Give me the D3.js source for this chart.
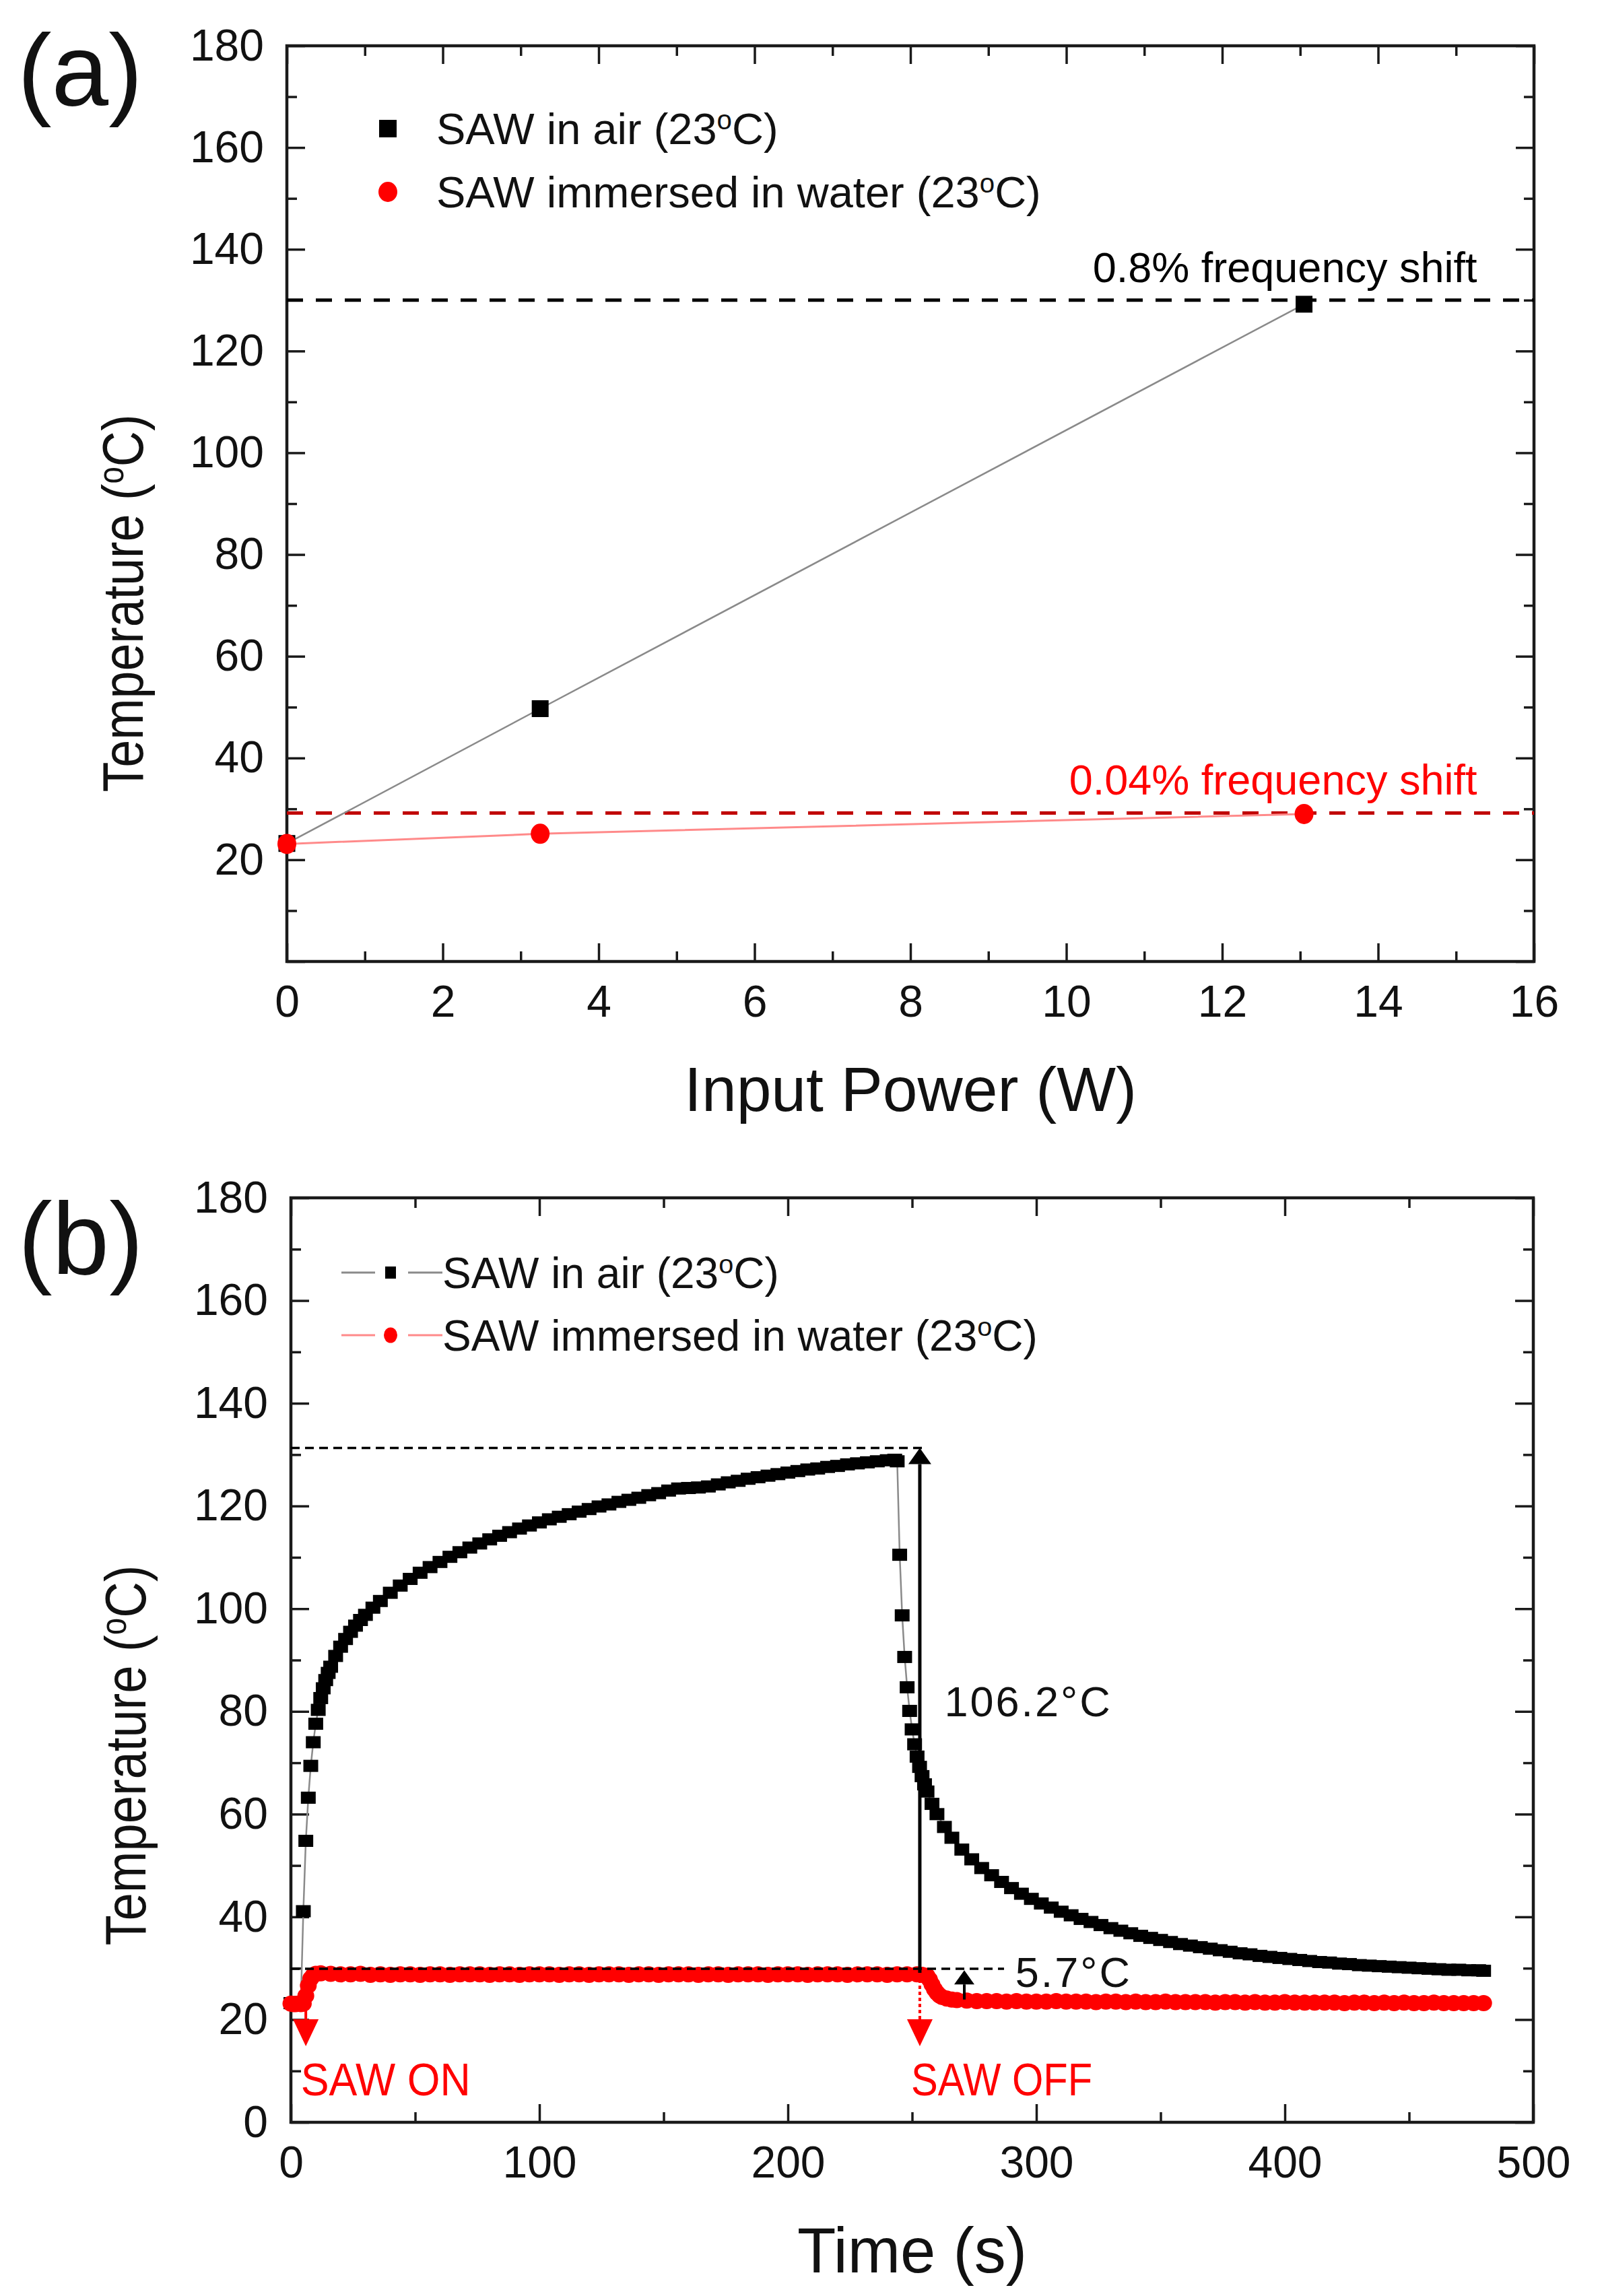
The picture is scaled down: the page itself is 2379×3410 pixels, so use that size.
<!DOCTYPE html>
<html>
<head>
<meta charset="utf-8">
<script src="https://cdn.jsdelivr.net/npm/d3@7"></script>
<style>
  body { margin: 0; background: #fff; }
  text { font-family: "Liberation Sans", Arial, sans-serif; }
</style>
</head>
<body>
<div id="chart"></div>
<script>
// ---- panel (a): temperature vs input power ----
const powerTicks = [0, 2, 4, 6, 8, 10, 12, 14, 16];
const powerMinor = [1, 3, 5, 7, 9, 11, 13, 15];
const powerW = [0, 3.25, 13.05];
const airTempA = [23.2, 49.7, 129.2];
const waterTempA = [23.1, 25.1, 29.0];
const shiftLevels = [130.0, 29.2];
const shiftLabels = ["0.8% frequency shift", "0.04% frequency shift"];

// ---- panel (b): temperature vs time ----
const timeTicks = [0, 100, 200, 300, 400, 500];
const timeMinor = [50, 150, 250, 350, 450];
const tempTicks = [0, 20, 40, 60, 80, 100, 120, 140, 160, 180];
const tempMinor = [10, 30, 50, 70, 90, 110, 130, 150, 170];

const airRun = [
  [0,23.2],[1,23.2],[2,23.3],[3,23.3],[4,23.4],[5,41.1],[6,54.8],[7,63.2],[8,69.4],[9,74.0],
  [10,77.6],[11,80.3],[12,82.6],[13,84.5],[14,86.1],[15,87.5],[16,88.7],[18,90.8],[20,92.6],
  [22,94.1],[24,95.5],[26,96.7],[28,97.8],[30,98.8],[33,100.2],[36,101.5],[40,103.1],[44,104.5],
  [48,105.8],[52,107.0],[56,108.1],[60,109.1],[64,110.1],[68,111.0],[72,111.9],[76,112.7],
  [80,113.5],[84,114.2],[88,114.9],[92,115.6],[96,116.2],[100,116.8],[104,117.4],[108,117.9],
  [112,118.4],[116,118.9],[120,119.4],[124,119.9],[128,120.3],[132,120.8],[136,121.2],[140,121.6],
  [144,122.1],[148,122.5],[152,123.0],[156,123.4],[160,123.5],[164,123.6],[168,123.8],[172,124.2],
  [176,124.6],[180,124.9],[184,125.3],[188,125.6],[192,125.9],[196,126.2],[200,126.5],[204,126.8],
  [208,127.1],[212,127.3],[216,127.6],[220,127.8],[224,128.1],[228,128.3],[232,128.5],[236,128.7],
  [240,128.9],[243,129.0],[244,128.7],[245,110.5],[246,98.7],[247,90.6],[248,84.7],[249,80.1],
  [250,76.5],[251,73.6],[252,71.2],[253,69.2],[254,67.4],[255,65.8],[256,64.4],[258,62.0],
  [260,60.0],[263,57.5],[266,55.4],[270,53.1],[274,51.2],[278,49.5],[282,48.1],[286,46.8],
  [290,45.6],[294,44.5],[298,43.5],[302,42.6],[306,41.8],[310,41.0],[314,40.3],[318,39.6],
  [322,39.0],[326,38.4],[330,37.8],[334,37.3],[338,36.8],[342,36.3],[346,35.9],[350,35.5],
  [354,35.1],[358,34.7],[362,34.4],[366,34.1],[370,33.8],[374,33.5],[378,33.2],[382,32.9],
  [386,32.7],[390,32.4],[394,32.2],[398,32.0],[402,31.8],[406,31.6],[410,31.4],[414,31.2],
  [418,31.1],[422,30.9],[426,30.8],[430,30.6],[434,30.5],[438,30.4],[442,30.3],[446,30.2],
  [450,30.1],[454,30.0],[458,29.9],[462,29.8],[466,29.7],[470,29.7],[474,29.6],[478,29.6],[480,29.5]
];

const waterRun = [
  [0,23.1],[1,23.0],[2,23.0],[3,23.1],[4,23.0],[5,23.1],[6,24.6],[7,26.6],[8,28.0],[9,28.6],
  [10,28.9],[12,29.0],[16,28.9],[20,28.8],[24,28.8],[28,28.9],[32,28.7],[36,28.8],[40,28.7],
  [44,28.8],[48,28.8],[52,28.7],[56,28.8],[60,28.8],[64,28.7],[68,28.8],[72,28.8],[76,28.8],
  [80,28.7],[84,28.8],[88,28.8],[92,28.7],[96,28.8],[100,28.8],[104,28.8],[108,28.7],[112,28.8],
  [116,28.8],[120,28.7],[124,28.8],[128,28.8],[132,28.8],[136,28.7],[140,28.8],[144,28.8],
  [148,28.7],[152,28.8],[156,28.8],[160,28.8],[164,28.7],[168,28.8],[172,28.8],[176,28.7],
  [180,28.8],[184,28.8],[188,28.8],[192,28.7],[196,28.8],[200,28.8],[204,28.8],[208,28.7],
  [212,28.8],[216,28.8],[220,28.8],[224,28.7],[228,28.8],[232,28.8],[236,28.8],[240,28.7],
  [244,28.8],[248,28.8],[252,28.8],[254,28.7],[256,28.5],[257,27.8],[258,26.8],[259,25.9],
  [260,25.2],[261,24.7],[262,24.4],[264,24.1],[266,23.9],[268,23.8],[272,23.7],[276,23.6],
  [280,23.6],[284,23.6],[288,23.5],[292,23.6],[296,23.5],[300,23.5],[304,23.5],[308,23.6],
  [312,23.5],[316,23.5],[320,23.5],[324,23.4],[328,23.5],[332,23.5],[336,23.4],[340,23.5],
  [344,23.4],[348,23.4],[352,23.5],[356,23.4],[360,23.4],[364,23.4],[368,23.4],[372,23.3],
  [376,23.4],[380,23.4],[384,23.3],[388,23.4],[392,23.3],[396,23.3],[400,23.4],[404,23.3],
  [408,23.3],[412,23.3],[416,23.3],[420,23.3],[424,23.2],[428,23.3],[432,23.3],[436,23.2],
  [440,23.3],[444,23.2],[448,23.3],[452,23.2],[456,23.2],[460,23.3],[464,23.2],[468,23.2],
  [472,23.2],[476,23.2],[480,23.2]
];

// annotation values (temperature levels in degC, times in s)
const holdLevels = [131.3, 29.9];
const holdEnds = [256, 287];
const offTime = 253.1;
const onTime = 6;
const dropLabels = ["106.2°C", "5.7°C"];

const svg = d3.select("#chart").append("svg")
  .attr("width", 2379)
  .attr("height", 3410)
  .style("background", "#fff");

const ink = "#1a1a1a";

function drawAxes(g, x, y, xMajor, xMinor, yMajor, yMinor, showYZero) {
  const [xl, xr] = x.range();
  const [yb, yt] = y.range();
  const big = 27, small = 15;

  const fmtY = d => (d === 0 && !showYZero) ? "" : d;
  const add = (axis, tx, ty) => g.append("g")
    .attr("class", "axis")
    .attr("transform", `translate(${tx},${ty})`)
    .call(axis.tickSizeOuter(0));

  add(d3.axisBottom(x).tickValues(xMajor).tickSize(-big).tickPadding(35), 0, yb);
  add(d3.axisBottom(x).tickValues(xMinor).tickSize(-small).tickFormat(""), 0, yb);
  add(d3.axisTop(x).tickValues(xMajor).tickSize(-big).tickFormat(""), 0, yt);
  add(d3.axisTop(x).tickValues(xMinor).tickSize(-small).tickFormat(""), 0, yt);
  add(d3.axisLeft(y).tickValues(yMajor).tickSize(-big).tickPadding(34).tickFormat(fmtY), xl, 0);
  add(d3.axisLeft(y).tickValues(yMinor).tickSize(-small).tickFormat(""), xl, 0);
  add(d3.axisRight(y).tickValues(yMajor).tickSize(-big).tickFormat(""), xr, 0);
  add(d3.axisRight(y).tickValues(yMinor).tickSize(-small).tickFormat(""), xr, 0);

  g.selectAll(".axis .domain").remove();
  g.selectAll(".axis line").attr("stroke", ink).attr("stroke-width", 3.5);
  g.selectAll(".axis text")
    .attr("font-family", "'Liberation Sans', Arial, sans-serif")
    .attr("font-size", 66)
    .attr("fill", "#111");

  g.append("rect")
    .attr("x", xl).attr("y", yt)
    .attr("width", xr - xl).attr("height", yb - yt)
    .attr("fill", "none")
    .attr("stroke", ink)
    .attr("stroke-width", 4.5);
}

// text with a raised small "o" used as degree sign
function degText(sel, before, after) {
  sel.append("tspan").text(before);
  sel.append("tspan").attr("font-size", "0.62em").attr("dy", "-0.55em").text("o");
  sel.append("tspan").attr("dy", "0.34em").text(after);
}

function yTitle(g, cx, cy, len) {
  const t = g.append("text")
    .attr("transform", `translate(${cx},${cy}) rotate(-90)`)
    .attr("text-anchor", "middle")
    .attr("font-size", 86)
    .attr("fill", "#111")
    .attr("textLength", len)
    .attr("lengthAdjust", "spacingAndGlyphs");
  degText(t, "Temperature (", "C)");
}

function arrow(g, px, p0, p1, color, headW, headH, width, dash) {
  const dir = p1 < p0 ? 1 : -1;
  g.append("line")
    .attr("x1", px).attr("x2", px)
    .attr("y1", p0).attr("y2", p1 + dir * headH)
    .attr("stroke", color)
    .attr("stroke-width", width)
    .attr("stroke-dasharray", dash || null);
  g.append("path")
    .attr("d", `M${px},${p1}L${px - headW / 2},${p1 + dir * headH}L${px + headW / 2},${p1 + dir * headH}Z`)
    .attr("fill", color);
}

// ================= panel (a) =================
const ga = svg.append("g");
const xa = d3.scaleLinear().domain([0, 16]).range([426, 2278]);
const ya = d3.scaleLinear().domain([0, 180]).range([1428, 68]);

drawAxes(ga, xa, ya, powerTicks, powerMinor, tempTicks, tempMinor, false);

// frequency shift reference lines
ga.selectAll(".shift")
  .data(shiftLevels)
  .join("line")
  .attr("x1", xa(0)).attr("x2", xa(16))
  .attr("y1", d => ya(d)).attr("y2", d => ya(d))
  .attr("stroke", (d, i) => i === 0 ? "#000" : "#c00000")
  .attr("stroke-width", 5)
  .attr("stroke-dasharray", "24,19");

ga.selectAll(".shiftLabel")
  .data(shiftLabels)
  .join("text")
  .attr("x", xa(15.27))
  .attr("y", (d, i) => ya(shiftLevels[i]) - 27)
  .attr("text-anchor", "end")
  .attr("font-size", 63)
  .attr("fill", (d, i) => i === 0 ? "#000" : "#ff0000")
  .text(d => d);

const lineA = d3.line().x(d => xa(d[0])).y(d => ya(d[1]));
const airA = powerW.map((p, i) => [p, airTempA[i]]);
const waterA = powerW.map((p, i) => [p, waterTempA[i]]);

ga.append("path").attr("d", lineA(airA))
  .attr("fill", "none").attr("stroke", "#8a8a8a").attr("stroke-width", 2.5);
ga.append("path").attr("d", lineA(waterA))
  .attr("fill", "none").attr("stroke", "#ff8a8a").attr("stroke-width", 3);

ga.selectAll(".sqA")
  .data(airA)
  .join("rect")
  .attr("x", d => xa(d[0]) - 12.5).attr("y", d => ya(d[1]) - 12.5)
  .attr("width", 25).attr("height", 25)
  .attr("fill", "#000");

ga.selectAll(".ciA")
  .data(waterA)
  .join("ellipse")
  .attr("cx", d => xa(d[0])).attr("cy", d => ya(d[1]))
  .attr("rx", 14).attr("ry", 15)
  .attr("fill", "#ff0000");

// legend (a)
ga.append("rect").attr("x", 563).attr("y", 178).attr("width", 26).attr("height", 26).attr("fill", "#000");
ga.append("ellipse").attr("cx", 576).attr("cy", 285).attr("rx", 14).attr("ry", 15).attr("fill", "#ff0000");
degText(ga.append("text").attr("x", 648).attr("y", 214).attr("font-size", 65).attr("fill", "#111"),
  "SAW in air (23", "C)");
degText(ga.append("text").attr("x", 648).attr("y", 308).attr("font-size", 65).attr("fill", "#111"),
  "SAW immersed in water (23", "C)");

ga.append("text").attr("x", 26).attr("y", 157).attr("font-size", 152).attr("fill", "#111").text("(a)");
ga.append("text").attr("x", xa(8)).attr("y", 1650).attr("text-anchor", "middle")
  .attr("font-size", 93).attr("fill", "#111").text("Input Power (W)");
yTitle(ga, 212, 896, 561);

// ================= panel (b) =================
const gb = svg.append("g");
const xb = d3.scaleLinear().domain([0, 500]).range([432, 2277]);
const yb = d3.scaleLinear().domain([0, 180]).range([3152, 1779]);

drawAxes(gb, xb, yb, timeTicks, timeMinor, tempTicks, tempMinor, true);

const lineB = d3.line().x(d => xb(d[0])).y(d => yb(d[1]));

gb.append("path").attr("d", lineB(airRun))
  .attr("fill", "none").attr("stroke", "#8a8a8a").attr("stroke-width", 2.5);
gb.selectAll(".sqB")
  .data(airRun)
  .join("rect")
  .attr("x", d => xb(d[0]) - 11).attr("y", d => yb(d[1]) - 9)
  .attr("width", 22).attr("height", 18)
  .attr("fill", "#000");

gb.append("path").attr("d", lineB(waterRun))
  .attr("fill", "none").attr("stroke", "#ff8a8a").attr("stroke-width", 2.5);
gb.selectAll(".ciB")
  .data(waterRun)
  .join("ellipse")
  .attr("cx", d => xb(d[0])).attr("cy", d => yb(d[1]))
  .attr("rx", 12.5).attr("ry", 12)
  .attr("fill", "#ff0000");

// hold levels (dashed)
gb.selectAll(".hold")
  .data(holdLevels)
  .join("line")
  .attr("x1", xb(0)).attr("x2", (d, i) => xb(holdEnds[i]))
  .attr("y1", d => yb(d)).attr("y2", d => yb(d))
  .attr("stroke", "#000")
  .attr("stroke-width", 3.5)
  .attr("stroke-dasharray", "13,8");

// arrows
arrow(gb, xb(offTime), yb(holdLevels[1] - 0.8), yb(holdLevels[0]), "#000", 34, 24, 5);
arrow(gb, xb(271), yb(23.9), yb(holdLevels[1] - 0.3), "#000", 30, 21, 4);
arrow(gb, xb(offTime), yb(27.8), yb(14.8), "#ff0000", 38, 40, 4, "5,4");
arrow(gb, xb(onTime), yb(22.3), yb(14.8), "#ff0000", 38, 40, 4);

gb.selectAll(".dropLabel")
  .data(dropLabels)
  .join("text")
  .attr("x", (d, i) => xb(i === 0 ? 263 : 291.5))
  .attr("y", (d, i) => yb(i === 0 ? 79 : 26.4))
  .attr("font-size", 63)
  .attr("letter-spacing", 3)
  .attr("fill", "#111")
  .text(d => d);

gb.append("text").attr("x", xb(4)).attr("y", yb(5.2))
  .attr("font-size", 68).attr("fill", "#ff0000")
  .attr("textLength", 252).attr("lengthAdjust", "spacingAndGlyphs")
  .text("SAW ON");
gb.append("text").attr("x", xb(249.6)).attr("y", yb(5.2))
  .attr("font-size", 68).attr("fill", "#ff0000")
  .attr("textLength", 269).attr("lengthAdjust", "spacingAndGlyphs")
  .text("SAW OFF");

// legend (b)
gb.append("line").attr("x1", 507).attr("x2", 557).attr("y1", 1890).attr("y2", 1890).attr("stroke", "#8a8a8a").attr("stroke-width", 3);
gb.append("line").attr("x1", 606).attr("x2", 657).attr("y1", 1890).attr("y2", 1890).attr("stroke", "#8a8a8a").attr("stroke-width", 3);
gb.append("rect").attr("x", 572).attr("y", 1881).attr("width", 16).attr("height", 18).attr("fill", "#000");
gb.append("line").attr("x1", 507).attr("x2", 557).attr("y1", 1983).attr("y2", 1983).attr("stroke", "#ff8a8a").attr("stroke-width", 3);
gb.append("line").attr("x1", 606).attr("x2", 657).attr("y1", 1983).attr("y2", 1983).attr("stroke", "#ff8a8a").attr("stroke-width", 3);
gb.append("ellipse").attr("cx", 580).attr("cy", 1983).attr("rx", 10).attr("ry", 11.5).attr("fill", "#ff0000");
degText(gb.append("text").attr("x", 657).attr("y", 1913).attr("font-size", 64).attr("fill", "#111"),
  "SAW in air (23", "C)");
degText(gb.append("text").attr("x", 657).attr("y", 2006).attr("font-size", 64).attr("fill", "#111"),
  "SAW immersed in water (23", "C)");

gb.append("text").attr("x", 27).attr("y", 1892).attr("font-size", 152).attr("fill", "#111").text("(b)");
gb.append("text").attr("x", xb(250)).attr("y", 3375).attr("text-anchor", "middle")
  .attr("font-size", 94).attr("fill", "#111").text("Time (s)");
yTitle(gb, 216, 2607, 565);
</script>
</body>
</html>
